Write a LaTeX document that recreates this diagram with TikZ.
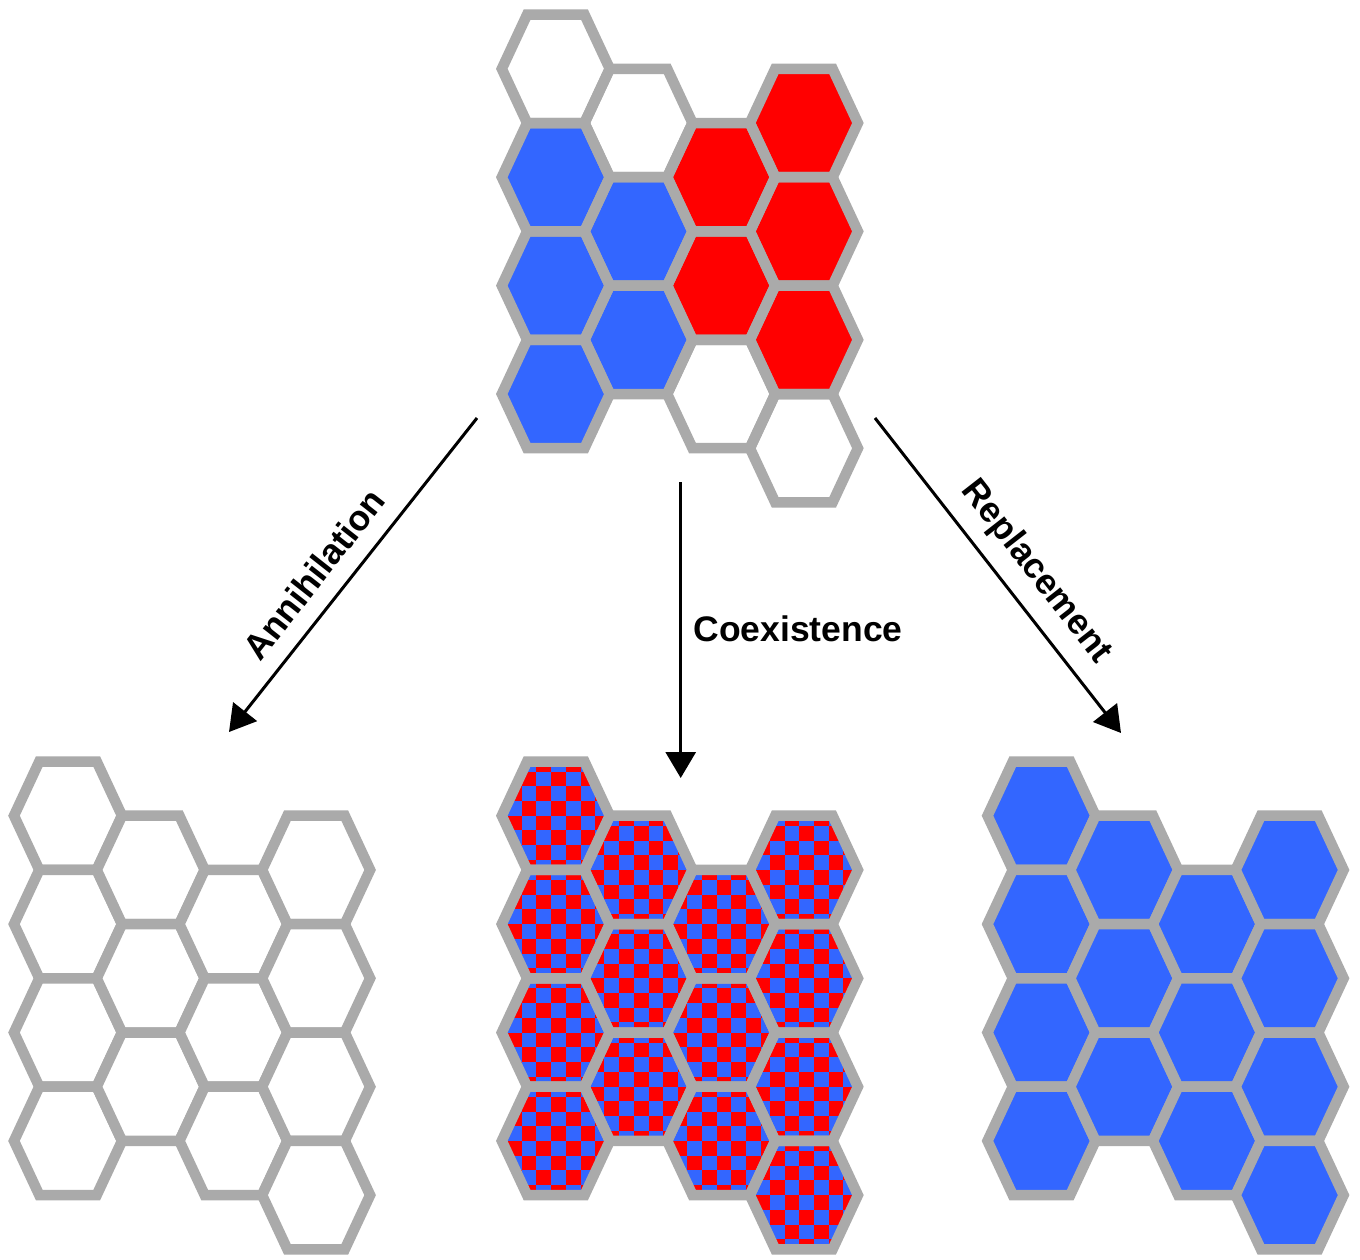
\documentclass[tikz,border=0pt]{standalone}
\usepackage{fontspec}
\setmainfont{Liberation Sans}
\usetikzlibrary{arrows.meta}
\definecolor{hexgray}{HTML}{AAAAAA}
\definecolor{hexblue}{HTML}{3366FF}
\definecolor{hexred}{HTML}{FF0000}
\newcommand\hexpath{(-54,0) -- (-28.7,-54.2) -- (28.7,-54.2) -- (54,0) -- (28.7,54.2) -- (-28.7,54.2) -- cycle}
\newcommand\hexcells{0/0,0/1,0/2,0/3,1/0.5,1/1.5,1/2.5,2/1,2/2,2/3,3/0.5,3/1.5,3/2.5,3/3.5}
\begin{document}
\begin{tikzpicture}[x=1pt,y=-1pt,
  hexline/.style={draw=hexgray, line width=10.5pt, line join=miter},
  arr/.style={line width=3pt, -{Triangle[length=26pt,width=30pt]}},
  lbl/.style={font=\bfseries\fontsize{35.5}{40}\selectfont, inner sep=0pt}]
\useasboundingbox[fill=white] (0,0) rectangle (1360,1259);

% ---------- top grid (mixed) ----------
\foreach \c/\k/\col in {0/0/white,0/1/hexblue,0/2/hexblue,0/3/hexblue,
  1/0.5/white,1/1.5/hexblue,1/2.5/hexblue,
  2/1/hexred,2/2/hexred,2/3/white,
  3/0.5/hexred,3/1.5/hexred,3/2.5/hexred,3/3.5/white}
  \fill[\col, shift={(555.8+\c*82.7, 68.8+\k*108.4)}] \hexpath;
\foreach \c/\k in \hexcells
  \draw[hexline, shift={(555.8+\c*82.7, 68.8+\k*108.4)}] \hexpath;

% ---------- bottom-left grid (annihilation: empty) ----------
\foreach \c/\k in \hexcells
  \draw[hexline, fill=white, shift={(68+\c*82.7, 815.7+\k*108.4)}] \hexpath;

% ---------- bottom-centre grid (coexistence: checkerboard) ----------
\foreach \c/\k in \hexcells {
  \begin{scope}[shift={(555.8+\c*82.7, 815.7+\k*108.4)}]
    \clip \hexpath;
    \fill[hexred] (-60,-60) rectangle (60,60);
    \foreach \i in {-5,...,4} {
      \foreach \j in {-5,...,4} {
        \pgfmathtruncatemacro\chkpar{mod(\i+\j+20,2)}
        \ifnum\chkpar=0
          \fill[hexblue] (-4.7+\i*14.7, \j*14.7) rectangle ++(14.7,14.7);
        \fi
      }
    }
  \end{scope}
}
\foreach \c/\k in \hexcells
  \draw[hexline, shift={(555.8+\c*82.7, 815.7+\k*108.4)}] \hexpath;

% ---------- bottom-right grid (replacement: all blue) ----------
\foreach \c/\k in \hexcells
  \draw[hexline, fill=hexblue, shift={(1041.5+\c*82.7, 815.7+\k*108.4)}] \hexpath;

% ---------- arrows ----------
\coordinate (annStart) at (477,418);
\coordinate (annEnd) at (229,732);
\coordinate (coeStart) at (680.7,482);
\coordinate (coeEnd) at (680.7,778);
\coordinate (repStart) at (875,418);
\coordinate (repEnd) at (1121,733);
\draw[arr] (annStart) -- (annEnd);
\draw[arr] (coeStart) -- (coeEnd);
\draw[arr] (repStart) -- (repEnd);

% ---------- labels ----------
\node[lbl, rotate=51.8] (annLabel) at (314,574) {Annihilation};
\node[lbl] (coeLabel) at (798,628.5) {Coexistence};
\node[lbl, rotate=-52] (repLabel) at (1036,572) {Replacement};
\end{tikzpicture}
\end{document}
